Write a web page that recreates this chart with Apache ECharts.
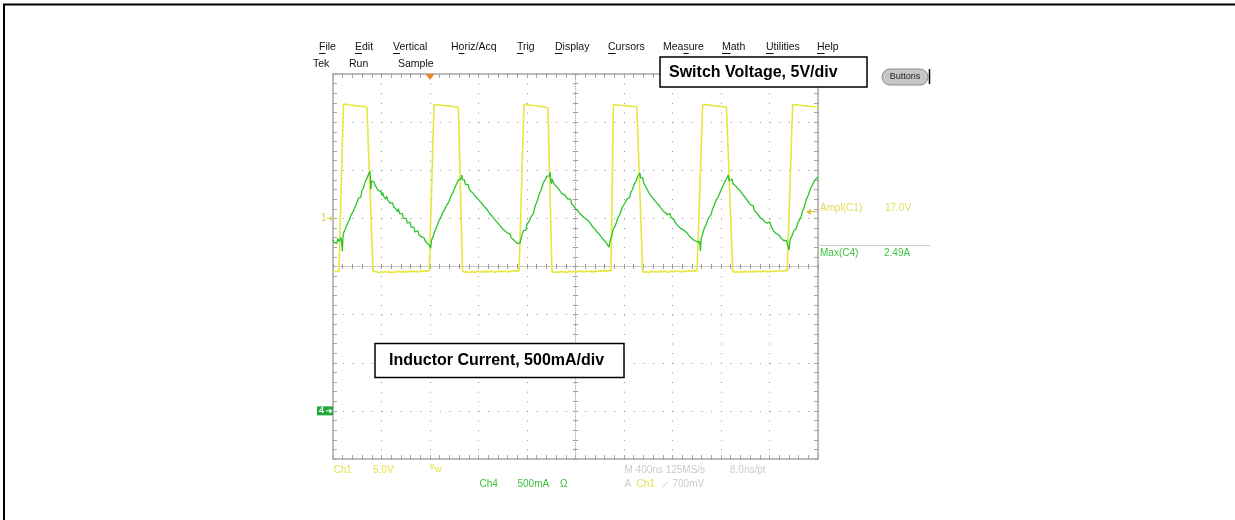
<!DOCTYPE html>
<html>
<head>
<meta charset="utf-8">
<script src="https://cdn.jsdelivr.net/npm/echarts@6/dist/echarts.min.js"></script>
<style>
html, body { margin: 0; padding: 0; background: #fff; }
#scope { width: 1235px; height: 520px; }
</style>
</head>
<body>
<div id="scope"></div>
<script>
// ---- Acquisition settings ----
// Horizontal: 400 ns/div over 10 divisions
const timeMin = 0, timeMax = 4000, timeDiv = 400;
// Ch1 (switch node): 5 V/div, ground reference one division above centre
const ch1Min = -25, ch1Max = 15, ch1Div = 5;
// Ch4 (inductor current): 500 mA/div, zero three divisions below centre
const ch4Min = -0.5, ch4Max = 3.5, ch4Div = 0.5;
const triggerTime = 800;   // ns, trigger point on the record
const triggerLevel = 0.7;  // V, Ch1 rising edge

// ---- Ch1 switch voltage [time ns, volts] ----
const ch1Trace = [
  [0,-5.55],[12,-5.6],[25,-5.52],[38,-5.58],[49,-5.52],
  [86,11.85],[98,11.8],[112,11.84],[126,11.75],[140,11.78],[154,11.7],[168,11.74],[182,11.65],[196,11.69],[210,11.6],[224,11.66],[238,11.57],[252,11.62],[266,11.52],[280,11.56],[293,11.48],
  [330,-5.5],[345,-5.62],[362,-5.58],[380,-5.64],[398,-5.55],[416,-5.6],[434,-5.52],[452,-5.6],[470,-5.56],[488,-5.63],[506,-5.55],[524,-5.6],[542,-5.5],[560,-5.58],[578,-5.53],[596,-5.6],[614,-5.5],[632,-5.56],[650,-5.48],[668,-5.55],[686,-5.5],[704,-5.57],[722,-5.47],[740,-5.52],[758,-5.45],[776,-5.5],[794,-5.42],[806,-5.45],
  [833,11.82],[846,11.76],[860,11.8],[874,11.72],[888,11.76],[902,11.68],[916,11.72],[930,11.64],[944,11.69],[958,11.6],[972,11.65],[986,11.58],[1000,11.62],[1014,11.55],[1034,11.52],
  [1068,-5.5],[1085,-5.6],[1103,-5.55],[1121,-5.62],[1139,-5.52],[1157,-5.58],[1175,-5.6],[1193,-5.5],[1211,-5.57],[1229,-5.53],[1247,-5.6],[1265,-5.5],[1283,-5.56],[1301,-5.48],[1319,-5.55],[1337,-5.6],[1355,-5.5],[1373,-5.54],[1391,-5.47],[1409,-5.55],[1427,-5.5],[1445,-5.57],[1463,-5.46],[1481,-5.52],[1499,-5.44],[1517,-5.5],[1535,-5.42],[1545,-5.45],
  [1575,11.85],[1588,11.78],[1602,11.82],[1616,11.72],[1630,11.76],[1644,11.68],[1658,11.73],[1672,11.64],[1686,11.68],[1700,11.6],[1714,11.64],[1728,11.55],[1742,11.6],[1756,11.5],[1773,11.47],
  [1806,-5.5],[1823,-5.62],[1841,-5.56],[1859,-5.6],[1877,-5.52],[1895,-5.58],[1913,-5.55],[1931,-5.62],[1949,-5.5],[1967,-5.57],[1985,-5.53],[2003,-5.6],[2021,-5.48],[2039,-5.55],[2057,-5.5],[2075,-5.58],[2093,-5.46],[2111,-5.53],[2129,-5.5],[2147,-5.56],[2165,-5.47],[2183,-5.52],[2201,-5.45],[2219,-5.5],[2237,-5.43],[2255,-5.48],[2273,-5.42],[2292,-5.45],
  [2313,11.82],[2326,11.77],[2340,11.8],[2354,11.72],[2368,11.76],[2382,11.68],[2396,11.73],[2410,11.64],[2424,11.69],[2438,11.6],[2452,11.65],[2466,11.57],[2480,11.62],[2494,11.53],[2506,11.57],[2518,11.5],
  [2554,-5.55],[2571,-5.6],[2589,-5.55],[2607,-5.62],[2625,-5.5],[2643,-5.58],[2661,-5.53],[2679,-5.6],[2697,-5.5],[2715,-5.56],[2733,-5.48],[2751,-5.55],[2769,-5.6],[2787,-5.5],[2805,-5.55],[2823,-5.47],[2841,-5.53],[2859,-5.5],[2877,-5.57],[2895,-5.46],[2913,-5.52],[2931,-5.45],[2949,-5.5],[2967,-5.44],[2985,-5.48],[3003,-5.42],[3012,-5.45],
  [3049,11.85],[3062,11.78],[3076,11.82],[3090,11.73],[3104,11.77],[3118,11.68],[3132,11.72],[3146,11.64],[3160,11.69],[3174,11.6],[3188,11.65],[3202,11.56],[3216,11.6],[3230,11.52],[3245,11.56],[3260,11.48],
  [3297,-5.5],[3314,-5.6],[3332,-5.55],[3350,-5.62],[3368,-5.52],[3386,-5.58],[3404,-5.5],[3422,-5.57],[3440,-5.53],[3458,-5.6],[3476,-5.48],[3494,-5.55],[3512,-5.5],[3530,-5.58],[3548,-5.47],[3566,-5.53],[3584,-5.5],[3602,-5.56],[3620,-5.46],[3638,-5.52],[3656,-5.45],[3674,-5.5],[3692,-5.44],[3710,-5.49],[3728,-5.42],[3746,-5.46],[3755,-5.44],
  [3791,11.82],[3804,11.76],[3818,11.8],[3832,11.72],[3846,11.75],[3860,11.68],[3874,11.72],[3888,11.64],[3902,11.69],[3916,11.6],[3930,11.65],[3944,11.58],[3958,11.62],[3972,11.55],[3986,11.6],[4000,11.56]
];

// ---- Ch4 inductor current [time ns, amps] ----
const ch4Trace = [
  [0,1.78],[10,1.75],[20,1.77],[30,1.74],[40,1.79],[50,1.76],[58,1.75],[66,1.8],[72,1.74],[77,1.66],[82,1.8],[88,1.85],[96,1.84],[105,1.9],[112,1.89],[120,1.95],[128,1.94],[135,1.98],[143,1.97],[150,2.04],[158,2.02],[167,2.07],[175,2.06],[182,2.12],[189,2.1],[196,2.16],[203,2.15],[210,2.21],[217,2.19],[223,2.23],[230,2.22],[238,2.29],[245,2.27],[252,2.32],[259,2.31],[265,2.38],[272,2.36],[278,2.41],[284,2.39],[290,2.45],[298,2.46],[305,2.49],[309,2.4],[312,2.3],[318,2.39],[326,2.41],[332,2.37],[338,2.38],
  [345,2.35],[352,2.36],[359,2.32],[366,2.33],[373,2.29],[380,2.31],[388,2.27],[395,2.28],[403,2.24],[410,2.27],[418,2.23],[425,2.24],[434,2.2],[443,2.23],[451,2.19],[460,2.2],[469,2.16],[478,2.18],[485,2.14],[492,2.16],[500,2.12],[508,2.14],[517,2.1],[525,2.11],[532,2.07],[540,2.1],[548,2.05],[556,2.07],[564,2.03],[572,2.05],[580,2.0],[588,2.01],[596,1.98],[604,2.0],[612,1.95],[620,1.96],[628,1.93],[635,1.96],[644,1.91],[652,1.92],[660,1.89],[668,1.91],[676,1.86],[684,1.88],[692,1.85],[700,1.87],[708,1.83],[717,1.85],[726,1.81],[735,1.83],[742,1.79],[750,1.8],[759,1.77],[768,1.78],[777,1.74],[786,1.74],[796,1.72],[806,1.69],
  [812,1.77],[820,1.76],[828,1.82],[835,1.85],[845,1.86],[855,1.91],[863,1.9],[872,1.97],[881,1.96],[890,2.01],[898,2.0],[905,2.06],[912,2.05],[920,2.09],[929,2.08],[938,2.14],[946,2.13],[955,2.17],[963,2.17],[972,2.23],[981,2.22],[990,2.27],[998,2.26],[1005,2.32],[1012,2.31],[1020,2.36],[1028,2.35],[1035,2.4],[1042,2.39],[1048,2.42],[1055,2.41],[1061,2.45],
  [1068,2.4],[1072,2.42],[1078,2.38],[1085,2.4],[1092,2.35],[1100,2.37],[1108,2.33],[1115,2.35],[1122,2.31],[1130,2.33],[1139,2.28],[1148,2.3],[1156,2.26],[1165,2.27],[1173,2.23],[1182,2.25],[1191,2.21],[1200,2.21],[1210,2.18],[1220,2.19],[1230,2.15],[1240,2.16],[1249,2.12],[1258,2.14],[1266,2.1],[1275,2.11],[1283,2.07],[1292,2.08],[1301,2.04],[1310,2.05],[1320,2.01],[1330,2.02],[1340,1.98],[1350,1.99],[1360,1.95],[1370,1.96],[1380,1.92],[1390,1.93],[1400,1.89],[1410,1.91],[1419,1.87],[1428,1.88],[1436,1.85],[1445,1.86],[1452,1.83],[1460,1.84],[1469,1.8],[1478,1.82],[1486,1.78],[1495,1.79],[1503,1.76],[1512,1.78],[1520,1.74],[1528,1.76],[1535,1.73],[1542,1.74],
  [1550,1.79],[1558,1.82],[1563,1.8],[1569,1.87],[1577,1.86],[1585,1.89],[1592,1.88],[1600,1.94],[1609,1.93],[1618,1.97],[1626,1.96],[1635,2.02],[1643,2.01],[1652,2.05],[1660,2.06],[1668,2.13],[1676,2.12],[1685,2.18],[1692,2.17],[1700,2.25],[1709,2.24],[1718,2.3],[1726,2.29],[1734,2.37],[1742,2.36],[1750,2.4],[1758,2.39],[1765,2.44],[1772,2.43],[1778,2.46],[1784,2.44],[1790,2.48],
  [1796,2.39],[1802,2.36],[1807,2.41],[1812,2.39],[1818,2.37],[1825,2.38],[1835,2.34],[1845,2.36],[1852,2.32],[1860,2.33],[1869,2.29],[1878,2.3],[1886,2.26],[1895,2.28],[1903,2.25],[1912,2.27],[1920,2.23],[1927,2.24],[1936,2.2],[1945,2.22],[1952,2.18],[1960,2.2],[1968,2.15],[1977,2.17],[1985,2.13],[1993,2.14],[2001,2.1],[2010,2.12],[2019,2.08],[2028,2.09],[2036,2.05],[2045,2.07],[2053,2.03],[2062,2.04],[2071,2.01],[2080,2.03],[2090,1.99],[2100,2.0],[2110,1.97],[2119,1.99],[2127,1.94],[2135,1.95],[2143,1.91],[2152,1.93],[2160,1.89],[2168,1.9],[2176,1.86],[2185,1.88],[2193,1.84],[2202,1.85],[2211,1.81],[2220,1.82],[2229,1.78],[2238,1.79],[2246,1.76],[2255,1.77],[2262,1.73],[2270,1.73],[2276,1.7],[2280,1.72],
  [2290,1.79],[2295,1.77],[2300,1.82],[2306,1.84],[2312,1.89],[2321,1.88],[2330,1.93],[2339,1.92],[2348,2.0],[2356,1.99],[2365,2.04],[2375,2.05],[2385,2.11],[2396,2.1],[2408,2.16],[2416,2.15],[2425,2.2],[2432,2.19],[2440,2.22],[2448,2.22],[2455,2.27],[2462,2.26],[2470,2.3],[2478,2.3],[2485,2.36],[2492,2.35],[2500,2.39],[2508,2.39],[2515,2.44],[2523,2.43],[2532,2.47],
  [2537,2.42],[2542,2.44],[2548,2.4],[2555,2.42],[2562,2.37],[2570,2.35],[2579,2.33],[2588,2.33],[2596,2.29],[2605,2.28],[2613,2.25],[2622,2.27],[2632,2.22],[2642,2.23],[2651,2.19],[2660,2.21],[2669,2.16],[2678,2.17],[2686,2.14],[2695,2.16],[2703,2.11],[2712,2.12],[2721,2.08],[2730,2.1],[2739,2.06],[2748,2.07],[2756,2.04],[2765,2.06],[2772,2.03],[2779,2.05],[2787,2.01],[2795,2.03],[2803,1.99],[2812,1.99],[2821,1.96],[2830,1.98],[2839,1.93],[2848,1.94],[2856,1.91],[2865,1.93],[2873,1.89],[2882,1.91],[2891,1.88],[2900,1.89],[2908,1.86],[2917,1.88],[2926,1.84],[2935,1.85],[2943,1.81],[2952,1.82],[2961,1.79],[2970,1.8],[2979,1.77],[2988,1.79],[2996,1.76],[3005,1.77],[3012,1.74],[3018,1.76],[3022,1.73],[3027,1.76],[3030,1.66],
  [3036,1.79],[3040,1.77],[3045,1.82],[3052,1.84],[3060,1.89],[3069,1.88],[3078,1.94],[3086,1.93],[3095,2.0],[3102,1.99],[3110,2.02],[3119,2.04],[3128,2.09],[3136,2.08],[3145,2.14],[3152,2.13],[3160,2.19],[3168,2.18],[3176,2.22],[3184,2.22],[3192,2.27],[3201,2.27],[3210,2.32],[3219,2.31],[3228,2.37],[3236,2.37],[3245,2.41],[3252,2.4],[3260,2.45],
  [3267,2.39],[3275,2.41],[3282,2.38],[3290,2.41],[3300,2.36],[3310,2.38],[3319,2.34],[3329,2.36],[3338,2.31],[3348,2.33],[3356,2.29],[3365,2.31],[3373,2.26],[3382,2.27],[3391,2.23],[3400,2.24],[3409,2.2],[3418,2.21],[3427,2.17],[3436,2.19],[3444,2.14],[3452,2.15],[3459,2.12],[3466,2.13],[3475,2.08],[3485,2.1],[3493,2.06],[3502,2.07],[3511,2.03],[3520,2.04],[3529,2.0],[3538,2.02],[3546,1.99],[3555,2.0],[3563,1.96],[3572,1.98],[3580,1.95],[3588,1.97],[3596,1.93],[3604,1.96],[3612,1.92],[3620,1.92],[3629,1.88],[3638,1.89],[3646,1.85],[3655,1.87],[3663,1.84],[3672,1.86],[3681,1.82],[3690,1.83],[3699,1.79],[3708,1.81],[3716,1.77],[3725,1.78],[3732,1.75],[3740,1.77],[3748,1.73],[3755,1.74],[3762,1.67],
  [3768,1.77],[3775,1.76],[3782,1.81],[3791,1.82],[3800,1.87],[3809,1.86],[3818,1.89],[3826,1.9],[3835,1.96],[3843,1.95],[3851,1.98],[3860,2.01],[3868,2.06],[3876,2.06],[3885,2.11],[3893,2.12],[3902,2.19],[3911,2.18],[3920,2.24],[3929,2.24],[3938,2.31],[3946,2.3],[3955,2.35],[3965,2.35],[3975,2.4],[3987,2.4],[4000,2.43]
];

// ---- On-screen text ----
const menuLabels   = ['File','Edit','Vertical','Horiz/Acq','Trig','Display','Cursors','Measure','Math','Utilities','Help'];
const menuMnemonic = [0, 0, 0, 1, 0, 0, 0, 3, 0, 0, 0];
const statusLabels = ['Tek', 'Run', 'Sample'];
const ch1Title = 'Switch Voltage, 5V/div';
const ch4Title = 'Inductor Current, 500mA/div';
const ampCh1Text = '17.0V';

// ---- Screen layout (pixels) ----
const GRID = { left: 333, top: 74, width: 485, height: 385 };
const menuX = [319, 355, 393, 451, 517, 555, 608, 663, 722, 766, 817];
const statusX = [313, 349, 398];
const FONT = '"Liberation Sans", Arial, Helvetica, sans-serif';

const YELLOW = '#e6e63c';
const GREEN = '#2ec22e';
const FRAME = '#a6a6a6';

const frameLine = { show: true, onZero: false, lineStyle: { color: FRAME, width: 1.5 } };
const tickIn = { show: true, inside: true, length: 4, lineStyle: { color: FRAME, width: 1 } };
const minorIn = { show: true, splitNumber: 5, length: 4, lineStyle: { color: FRAME, width: 1 } };
const noLabel = { show: false };

function centreAxis(base, inside, showLine) {
  return Object.assign({}, base, {
    axisLine: { show: showLine, onZero: false, lineStyle: { color: '#b4b4b4', width: 1, type: [1, 1.6] } },
    axisTick: { show: true, inside: inside, length: 2.5, lineStyle: { color: '#9c9c9c' } },
    minorTick: { show: true, splitNumber: 5, length: 2.5, lineStyle: { color: '#9c9c9c' } },
    axisLabel: noLabel,
    splitLine: { show: false }
  });
}

const xBase = { type: 'value', min: timeMin, max: timeMax, interval: timeDiv, gridIndex: 0 };
const y1Base = { type: 'value', min: ch1Min, max: ch1Max, interval: ch1Div, gridIndex: 0 };
const y4Base = { type: 'value', min: ch4Min, max: ch4Max, interval: ch4Div, gridIndex: 0 };

const scopeOption = {
  animation: false,
  backgroundColor: '#ffffff',
  grid: [{ left: GRID.left, top: GRID.top, width: GRID.width, height: GRID.height, containLabel: false }],
  xAxis: [
    Object.assign({}, xBase, {
      position: 'bottom', axisLine: frameLine, axisTick: tickIn, minorTick: minorIn, axisLabel: noLabel,
      splitLine: { show: true, lineStyle: { color: '#8e8e8e', width: 1, type: [1, 8.625] } }
    }),
    Object.assign({}, xBase, {
      position: 'top', axisLine: frameLine, axisTick: tickIn, minorTick: minorIn, axisLabel: noLabel,
      splitLine: { show: false }
    }),
    centreAxis(Object.assign({ position: 'bottom', offset: -GRID.height / 2 }, xBase), false, true),
    centreAxis(Object.assign({ position: 'bottom', offset: -GRID.height / 2 }, xBase), true, false)
  ],
  yAxis: [
    Object.assign({}, y1Base, {
      position: 'left', axisLine: frameLine, axisTick: tickIn, minorTick: minorIn, axisLabel: noLabel,
      splitLine: { show: true, lineStyle: { color: '#8e8e8e', width: 1, type: [1, 8.7] } }
    }),
    Object.assign({}, y4Base, {
      position: 'right', axisLine: frameLine, axisTick: tickIn, minorTick: minorIn, axisLabel: noLabel,
      splitLine: { show: false }
    }),
    centreAxis(Object.assign({ position: 'left', offset: -GRID.width / 2 }, y1Base), false, true),
    centreAxis(Object.assign({ position: 'left', offset: -GRID.width / 2 }, y1Base), true, false)
  ],
  series: [
    {
      name: 'Ch1', type: 'line', xAxisIndex: 0, yAxisIndex: 0, data: ch1Trace,
      symbol: 'none', silent: true, z: 3,
      lineStyle: { color: YELLOW, width: 1.6 }
    },
    {
      name: 'Ch4', type: 'line', xAxisIndex: 0, yAxisIndex: 1, data: ch4Trace,
      symbol: 'none', silent: true, z: 4,
      lineStyle: { color: GREEN, width: 1.3 }
    }
  ]
};

const scopeChart = echarts.init(document.getElementById('scope'), null, { renderer: 'canvas' });
scopeChart.setOption(scopeOption);

// ---- Annotations placed through the axis scales ----
(function drawAnnotations(chart) {
  const measureCtx = document.createElement('canvas').getContext('2d');
  function textWidth(s, font) { measureCtx.font = font; return measureCtx.measureText(s).width; }

  function label(text, x, y, color, font, align) {
    const a = align || 'left';
    return {
      type: 'text', x: x, y: y, silent: true, z: 20,
      style: { text: text, fill: color, font: font, align: a, verticalAlign: 'middle', textAlign: a, textVerticalAlign: 'middle' }
    };
  }
  function seg(x1, y1, x2, y2, color, w) {
    return { type: 'line', silent: true, z: 20, shape: { x1: x1, y1: y1, x2: x2, y2: y2 }, style: { stroke: color, lineWidth: w } };
  }

  const px = t => chart.convertToPixel({ xAxisIndex: 0 }, t);
  const py1 = v => chart.convertToPixel({ yAxisIndex: 0 }, v);
  const py4 = a => chart.convertToPixel({ yAxisIndex: 1 }, a);

  const g = [];
  // page frame
  g.push(seg(3, 4.5, 1235, 4.5, '#000', 2));
  g.push(seg(4, 4, 4, 520, '#000', 2));

  // menu bar with mnemonic underlines
  const menuFont = '10.5px ' + FONT;
  const menuY = 47;
  menuLabels.forEach((m, i) => {
    g.push(label(m, menuX[i], menuY, '#111', menuFont));
    const k = menuMnemonic[i];
    const x0 = menuX[i] + textWidth(m.slice(0, k), menuFont);
    const w = textWidth(m.charAt(k), menuFont);
    g.push(seg(x0, menuY + 6.5, x0 + w, menuY + 6.5, '#111', 1));
  });
  statusLabels.forEach((s, i) => g.push(label(s, statusX[i], 64, '#111', menuFont)));

  // caption boxes
  g.push({ type: 'rect', silent: true, z: 19, shape: { x: 660, y: 57, width: 207, height: 30 }, style: { fill: '#fff', stroke: '#000', lineWidth: 1.5 } });
  g.push(label(ch1Title, 669, 73, '#000', 'bold 16px ' + FONT));
  g.push({ type: 'rect', silent: true, z: 19, shape: { x: 375, y: 343.5, width: 249, height: 34 }, style: { fill: '#fff', stroke: '#000', lineWidth: 1.5 } });
  g.push(label(ch4Title, 389, 361, '#000', 'bold 16px ' + FONT));

  // "Buttons" key
  g.push({ type: 'rect', silent: true, z: 19, shape: { x: 882, y: 69, width: 46, height: 16, r: 8 }, style: { fill: '#c6c6c6', stroke: '#8c8c8c', lineWidth: 1 } });
  g.push(label('Buttons', 905, 77, '#222', '9px ' + FONT, 'center'));
  g.push(seg(929.5, 69, 929.5, 84, '#000', 1.5));

  // trigger position marker on the top edge
  const tx = px(triggerTime);
  const gridTop = GRID.top;
  g.push({ type: 'polygon', silent: true, z: 21, shape: { points: [[tx - 4.5, gridTop], [tx + 4.5, gridTop], [tx, gridTop + 6]] }, style: { fill: '#e8862c' } });

  // trigger level arrow on the right edge
  const ty = py1(triggerLevel);
  const gridRight = GRID.left + GRID.width;
  g.push(seg(gridRight - 1, ty, gridRight - 9, ty, '#d6c83a', 1));
  g.push({ type: 'polygon', silent: true, z: 21, shape: { points: [[gridRight - 12, ty], [gridRight - 7, ty - 3], [gridRight - 7, ty + 3]] }, style: { fill: '#d6c83a' } });

  // Ch1 ground marker
  const g1 = py1(0);
  g.push(label('1', 321, g1, '#d8d84a', '10px ' + FONT));
  g.push(seg(327, g1, 332, g1, '#d8d84a', 1));
  g.push({ type: 'polygon', silent: true, z: 21, shape: { points: [[333.5, g1], [330, g1 - 2.5], [330, g1 + 2.5]] }, style: { fill: '#d8d84a' } });

  // Ch4 ground marker
  const g4 = py4(0);
  g.push({ type: 'rect', silent: true, z: 20, shape: { x: 317, y: g4 - 4.5, width: 16, height: 9 }, style: { fill: '#1faa38' } });
  g.push(label('4', 319, g4, '#ffffff', 'bold 9px ' + FONT));
  g.push(seg(326, g4, 331, g4, '#ffffff', 1));
  g.push({ type: 'polygon', silent: true, z: 21, shape: { points: [[332.5, g4], [329.5, g4 - 2.5], [329.5, g4 + 2.5]] }, style: { fill: '#ffffff' } });

  // measurement readouts
  const ch4Peak = Math.max.apply(null, ch4Trace.map(p => p[1]));
  const readFont = '10px ' + FONT;
  g.push(label('Ampl(C1)', 820, 208.5, '#dede5a', readFont));
  g.push(label(ampCh1Text, 885, 208.5, '#dede5a', readFont));
  g.push(seg(820, 245.5, 930, 245.5, '#cfcfcf', 1));
  g.push(label('Max(C4)', 820, 253.5, '#3cc23c', readFont));
  g.push(label(ch4Peak.toFixed(2) + 'A', 884, 253.5, '#3cc23c', readFont));

  // channel / timebase readouts under the graticule
  g.push(label('Ch1', 333.5, 470, '#e2e24a', readFont));
  g.push(label('5.0V', 373, 470, '#e2e24a', readFont));
  g.push(label('B', 430, 467.5, '#e2e24a', '7px ' + FONT));
  g.push(label('w', 435, 470, '#e2e24a', '9px ' + FONT));
  g.push(label('Ch4', 479.5, 484.5, '#3cc23c', readFont));
  g.push(label('500mA', 517.5, 484.5, '#3cc23c', readFont));
  g.push(label('\u03A9', 560, 484.5, '#3cc23c', readFont));
  g.push(label('M 400ns 125MS/s', 624.5, 470, '#cbcbcb', readFont));
  g.push(label('8.0ns/pt', 730, 470, '#cbcbcb', readFont));
  g.push(label('A', 624.5, 484.5, '#cbcbcb', readFont));
  g.push(label('Ch1', 636.5, 484.5, '#e2e24a', readFont));
  g.push(seg(662, 487.5, 668, 481.5, '#cbcbcb', 1));
  g.push(label('700mV', 672.5, 484.5, '#cbcbcb', readFont));

  chart.setOption({ graphic: { elements: g } });
})(scopeChart);
</script>
</body>
</html>
